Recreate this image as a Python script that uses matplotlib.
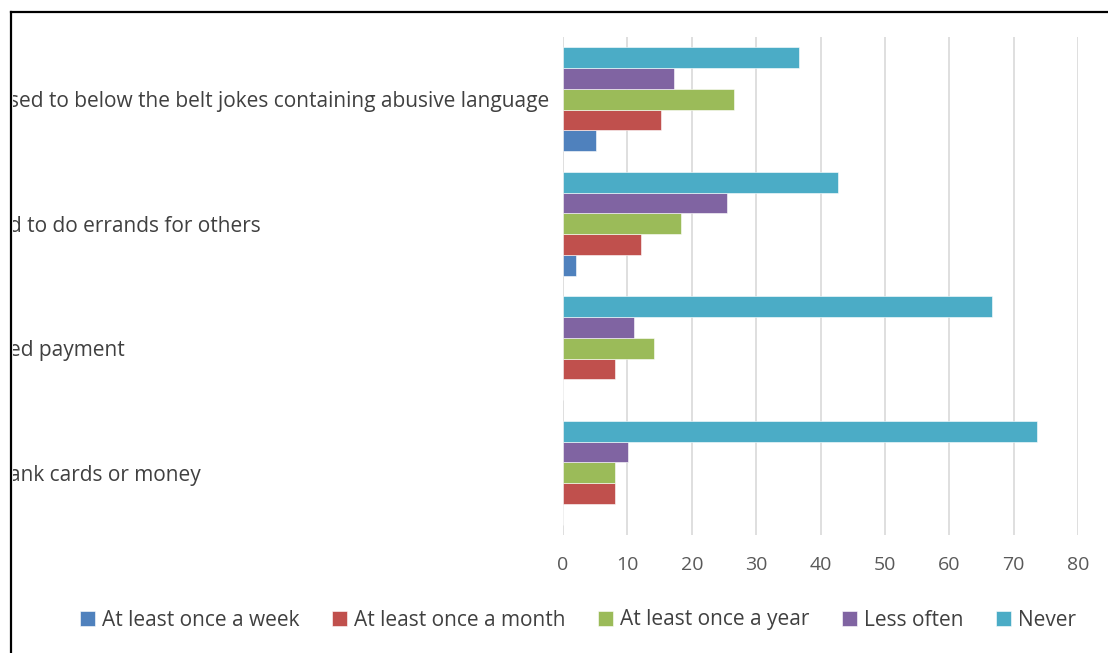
import matplotlib.pyplot as plt
import numpy as np
from matplotlib.lines import Line2D
from matplotlib.transforms import Bbox, TransformedBbox

plt.rcParams['font.family'] = ['Open Sans', 'DejaVu Sans']

# category labels, as far as they show inside the frame
categories = [
    "sed to below the belt jokes containing abusive language",
    "d to do errands for others",
    "ed payment",
    "ank cards or money",
]
series = ["At least once a week", "At least once a month", "At least once a year",
          "Less often", "Never"]
colors = ["#4F81BD", "#C0504D", "#9BBB59", "#8064A2", "#4BACC6"]

week = [5.1, 2.0, 0, 0]
month = [15.3, 12.1, 8.1, 8.1]
year = [26.5, 18.4, 14.1, 8.1]
less_often = [17.3, 25.5, 11.1, 10.1]
never = [36.7, 42.7, 66.6, 73.6]
values = [week, month, year, less_often, never]

W, H = 1108, 653
fig = plt.figure(figsize=(W / 100, H / 100), dpi=100)
ax = fig.add_axes([563 / W, 1 - 535 / H, 515 / W, 498 / H])

y = np.arange(len(categories))
h = 0.167
for i, (name, vals, c) in enumerate(zip(series, values, colors)):
    ax.barh(y + (2 - i) * h, vals, height=h, color=c, label=name,
            edgecolor="white", linewidth=0.4, zorder=3)

ax.set_xlim(0, 80)
ax.set_ylim(len(categories) - 0.5, -0.5)
ax.set_xticks(range(0, 81, 10))
ax.set_yticks([])
ax.tick_params(axis="x", length=0, pad=15, labelsize=14, labelcolor="#595959")
ax.grid(axis="x", color="#D9D9D9", linewidth=1.2, zorder=0)
for s in ax.spines.values():
    s.set_visible(False)

# category labels, clipped at the outer frame
clip = TransformedBbox(Bbox([[12.5 / W, 0], [1, 1]]), fig.transFigure)
for yi, cat in zip(y, categories):
    t = ax.text((9 - 563) / 515, yi, cat, transform=ax.get_yaxis_transform(),
                ha="left", va="center_baseline", fontsize=15, color="#404040")
    t.set_clip_box(clip)
    t.set_clip_on(True)

ax.legend(loc="center", bbox_to_anchor=(578 / W, 1 - 620 / H),
          bbox_transform=fig.transFigure, ncol=5, frameon=False,
          fontsize=15, handlelength=0.72, handleheight=0.72,
          handletextpad=0.35, columnspacing=1.55, labelcolor="#404040")

# outer frame lines (top and left)
fig.add_artist(Line2D([11 / W, 1], [1 - 12 / H] * 2, color="black",
                      linewidth=1.6, transform=fig.transFigure))
fig.add_artist(Line2D([11 / W] * 2, [0, 1 - 12 / H], color="black",
                      linewidth=1.6, transform=fig.transFigure))

fig.savefig("out.png", dpi=100)
